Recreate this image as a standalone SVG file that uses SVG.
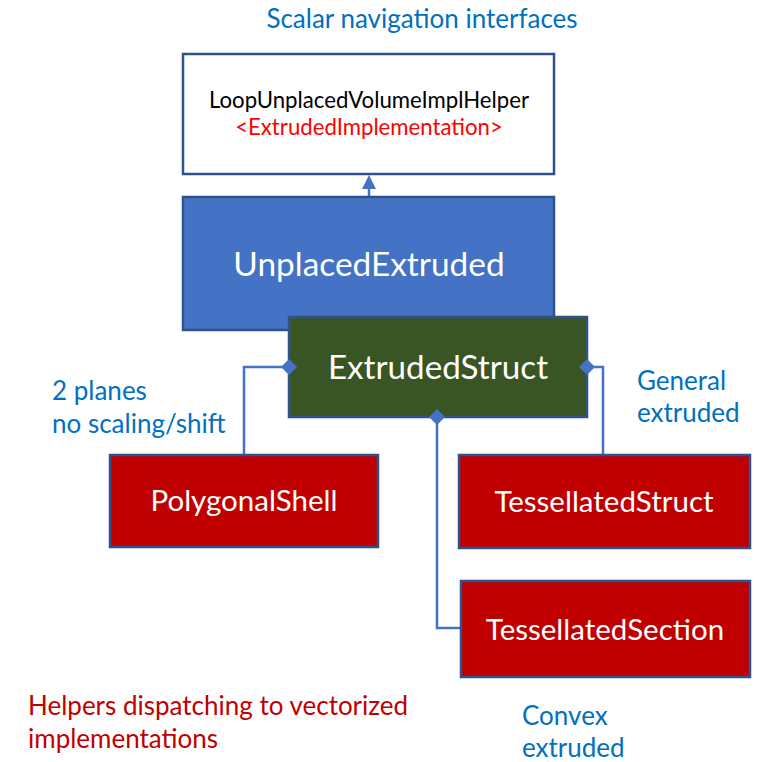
<svg xmlns="http://www.w3.org/2000/svg" width="757" height="762" viewBox="0 0 757 762">
<defs>
<style>
text{font-family:Lato,"Open Sans","Liberation Sans",sans-serif}
.box{stroke:#2F528F;stroke-width:2.5}
.red{fill:#C00000}
.lbl{fill:#0070C0;font-size:26px}
.wt{fill:#fff;text-anchor:middle}
.conn{fill:none;stroke:#4472C4;stroke-width:2.5}
.dia{fill:#4472C4}
</style>
</defs>
<rect width="757" height="762" fill="#fff"/>
<text class="lbl" x="422" y="28" text-anchor="middle">Scalar navigation interfaces</text>
<g id="loopHelper">
<rect class="box" x="183" y="54" width="371" height="120" fill="#fff"/>
<text x="369" y="108" text-anchor="middle" font-size="22.2" fill="#000">LoopUnplacedVolumeImplHelper</text>
<text x="369" y="135" text-anchor="middle" font-size="22.2" fill="#FF0000">&lt;ExtrudedImplementation&gt;</text>
</g>
<g id="connectors">
<line class="conn" x1="369" y1="197" x2="369" y2="186"/>
<polygon class="dia" points="369,175 376,189 362,189"/>
<polyline class="conn" points="289,367 244,367 244,455"/>
<polyline class="conn" points="587,367 603,367 603,455"/>
<polyline class="conn" points="437,417 437,628 461,628"/>
</g>
<g id="unplacedExtruded">
<rect class="box" x="183" y="197" width="371" height="133" fill="#4472C4"/>
<text class="wt" x="369" y="276" font-size="33.4">UnplacedExtruded</text>
</g>
<g id="extrudedStruct">
<rect class="box" x="289" y="317" width="298" height="100" fill="#3A5524"/>
<text class="wt" x="438" y="379" font-size="33.2">ExtrudedStruct</text>
<polygon class="dia" points="281,367 289,359 297,367 289,375"/>
<polygon class="dia" points="579,367 587,359 595,367 587,375"/>
<polygon class="dia" points="429,417 437,409 445,417 437,425"/>
</g>
<g id="polygonalShell">
<rect class="box red" x="110" y="455" width="268" height="92"/>
<text class="wt" x="244" y="511" font-size="29.5">PolygonalShell</text>
</g>
<g id="tessellatedStruct">
<rect class="box red" x="459" y="455" width="291" height="93"/>
<text class="wt" x="604" y="512" font-size="29.5">TessellatedStruct</text>
</g>
<g id="tessellatedSection">
<rect class="box red" x="461" y="581" width="289" height="96"/>
<text class="wt" x="605" y="640" font-size="29.5">TessellatedSection</text>
</g>
<text class="lbl" x="52" y="400">2 planes</text>
<text class="lbl" x="52" y="433">no scaling/shift</text>
<text class="lbl" x="637" y="390">General</text>
<text class="lbl" x="637" y="422">extruded</text>
<text x="28" y="715" font-size="26" fill="#C00000">Helpers dispatching to vectorized</text>
<text x="28" y="748" font-size="26" fill="#C00000">implementations</text>
<text class="lbl" x="522" y="725">Convex</text>
<text class="lbl" x="522" y="757">extruded</text>
</svg>
